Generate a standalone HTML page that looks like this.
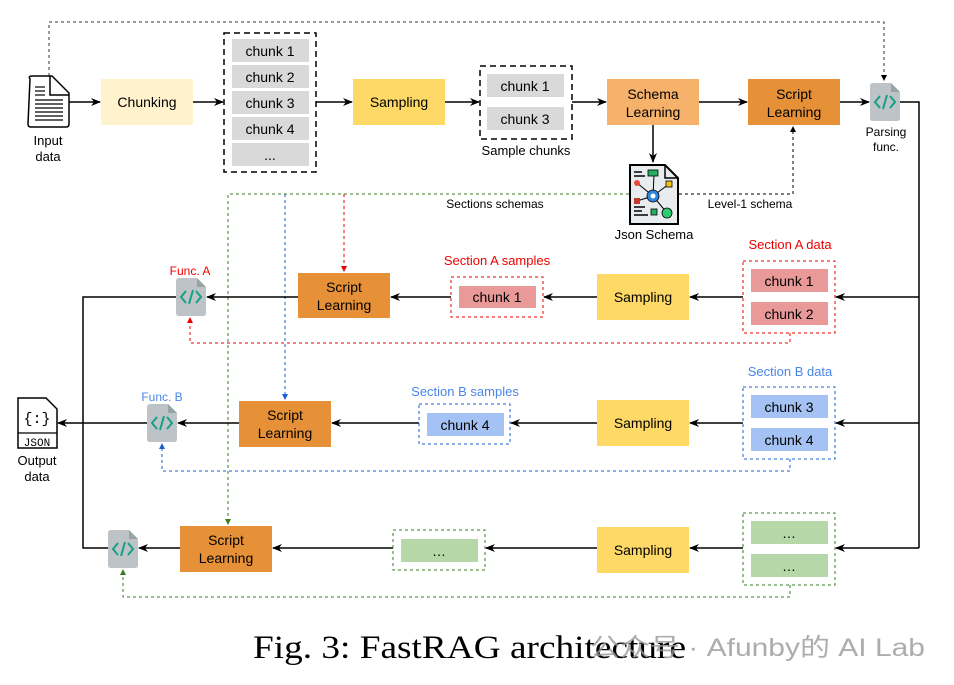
<!DOCTYPE html>
<html><head><meta charset="utf-8"><style>
html,body{margin:0;padding:0;background:#fff;}
svg{display:block;}
</style></head><body>
<svg width="954" height="685" viewBox="0 0 954 685" xmlns="http://www.w3.org/2000/svg" font-family="Liberation Sans, Arial, sans-serif">
<defs>
<marker id="ab" markerWidth="10" markerHeight="8" refX="9" refY="4" orient="auto" markerUnits="userSpaceOnUse"><path d="M0,0 L10,4 L0,8 L3,4 z" fill="#000"/></marker>
<marker id="as" markerWidth="6" markerHeight="6" refX="5" refY="3" orient="auto" markerUnits="userSpaceOnUse"><path d="M0,0 L6,3 L0,6 z" fill="#000"/></marker>
<marker id="ar" markerWidth="6" markerHeight="6" refX="5" refY="3" orient="auto" markerUnits="userSpaceOnUse"><path d="M0,0 L6,3 L0,6 z" fill="#e00"/></marker>
<marker id="abl" markerWidth="6" markerHeight="6" refX="5" refY="3" orient="auto" markerUnits="userSpaceOnUse"><path d="M0,0 L6,3 L0,6 z" fill="#1a5fd6"/></marker>
<marker id="ag" markerWidth="6" markerHeight="6" refX="5" refY="3" orient="auto" markerUnits="userSpaceOnUse"><path d="M0,0 L6,3 L0,6 z" fill="#3a7d20"/></marker>
<g id="code">
<path d="M0,3 Q0,0 3,0 L21,0 L30,9 L30,35 Q30,38 27,38 L3,38 Q0,38 0,35 z" fill="#bdc3c7"/>
<path d="M21,0 L30,9 L21,9 z" fill="#95a5a6"/>
<path d="M10,13 L5,19 L10,25 M20,13 L25,19 L20,25 M17,12 L13,26" stroke="#16a085" stroke-width="2" fill="none"/>
</g>
</defs>

<path d="M49,76 L49,22 L884,22 L884,80" fill="none" stroke="#333" stroke-width="1" stroke-dasharray="3,3" marker-end="url(#as)"/>

<path d="M30,79 Q28,76 32,76 L52,76 L69,93 L69,124 Q69,127 66,127 L31,127 Q28,127 28,124 z" fill="#fff" stroke="#000" stroke-width="1.5"/>
<path d="M50,76 L50,95 L69,95" fill="none" stroke="#000" stroke-width="1.5"/>
<g stroke="#000" stroke-width="1.2">
<line x1="35" y1="87" x2="45" y2="87"/><line x1="35" y1="91" x2="45" y2="91"/><line x1="35" y1="95" x2="45" y2="95"/>
<line x1="35" y1="100" x2="63" y2="100"/><line x1="35" y1="104" x2="63" y2="104"/><line x1="35" y1="108" x2="63" y2="108"/><line x1="35" y1="112" x2="63" y2="112"/><line x1="35" y1="116" x2="63" y2="116"/><line x1="35" y1="120" x2="63" y2="120"/>
</g>
<text x="48" y="145" font-size="13" text-anchor="middle">Input</text>
<text x="48" y="161" font-size="13" text-anchor="middle">data</text>

<g stroke="#000" stroke-width="1.5" fill="none" marker-end="url(#ab)">
<line x1="69" y1="102" x2="100" y2="102"/>
<line x1="193" y1="102" x2="223" y2="102"/>
<line x1="316" y1="102" x2="352" y2="102"/>
<line x1="445" y1="102" x2="479" y2="102"/>
<line x1="572" y1="102" x2="606" y2="102"/>
<line x1="699" y1="102" x2="747" y2="102"/>
<line x1="840" y1="102" x2="869" y2="102"/>
<line x1="653" y1="125" x2="653" y2="162"/>
</g>

<rect x="101" y="79" width="92" height="46" fill="#fff2cc"/>
<text x="147" y="107" font-size="14" text-anchor="middle">Chunking</text>

<rect x="224" y="33" width="92" height="139" fill="none" stroke="#000" stroke-width="1.5" stroke-dasharray="6,4"/>
<g fill="#d9d9d9"><rect x="232" y="39" width="77" height="23"/><rect x="232" y="65" width="77" height="23"/><rect x="232" y="91" width="77" height="23"/><rect x="232" y="117" width="77" height="23"/><rect x="232" y="143" width="77" height="23"/></g>
<g font-size="14" text-anchor="middle"><text x="270" y="56">chunk 1</text><text x="270" y="82">chunk 2</text><text x="270" y="108">chunk 3</text><text x="270" y="134">chunk 4</text><text x="270" y="160">...</text></g>

<rect x="353" y="79" width="92" height="46" fill="#ffd966"/>
<text x="399" y="107" font-size="14" text-anchor="middle">Sampling</text>

<rect x="480" y="66" width="92" height="73" fill="none" stroke="#000" stroke-width="1.5" stroke-dasharray="6,4"/>
<rect x="487" y="74" width="77" height="23" fill="#d9d9d9"/><rect x="487" y="107" width="77" height="23" fill="#d9d9d9"/>
<text x="525" y="91" font-size="14" text-anchor="middle">chunk 1</text><text x="525" y="124" font-size="14" text-anchor="middle">chunk 3</text>
<text x="526" y="155" font-size="13" text-anchor="middle">Sample chunks</text>

<rect x="607" y="79" width="92" height="46" fill="#f6b26b"/>
<text x="653" y="99" font-size="14" text-anchor="middle">Schema</text><text x="653" y="117" font-size="14" text-anchor="middle">Learning</text>
<rect x="748" y="79" width="92" height="46" fill="#e69138"/>
<text x="794" y="99" font-size="14" text-anchor="middle">Script</text><text x="794" y="117" font-size="14" text-anchor="middle">Learning</text>

<use href="#code" x="870" y="83"/>
<text x="886" y="136" font-size="12" text-anchor="middle">Parsing</text><text x="886" y="151" font-size="12" text-anchor="middle">func.</text>

<path d="M630,165 L665,165 L678,178 L678,224 L630,224 z" fill="#e8ecef" stroke="#000" stroke-width="2"/>
<path d="M665,165 L665,178 L678,178" fill="none" stroke="#000" stroke-width="1.5"/>
<g stroke="#000" stroke-width="1.5"><line x1="634" y1="172" x2="642" y2="172"/><line x1="634" y1="176" x2="645" y2="176"/><line x1="634" y1="207" x2="645" y2="207"/><line x1="634" y1="211" x2="642" y2="211"/><line x1="634" y1="215" x2="648" y2="215"/></g>
<path d="M637,183 L653,196 L667,213 M653,196 L669,184 M653,196 L637,201 M653,196 L654,175" stroke="#000" stroke-width="1" fill="none"/>
<rect x="648" y="170" width="10" height="6" fill="#27ae60" stroke="#000" stroke-width="0.8"/>
<circle cx="653" cy="196" r="6" fill="#2e86de" stroke="#000" stroke-width="0.8"/><circle cx="653" cy="196" r="2.5" fill="#fff"/>
<rect x="666" y="181" width="6" height="6" fill="#f1c40f" stroke="#000" stroke-width="0.8"/>
<circle cx="637" cy="183" r="3" fill="#e74c3c"/><rect x="634" y="198" width="6" height="6" fill="#c0392b"/>
<rect x="651" y="209" width="6" height="6" fill="#27ae60" stroke="#000" stroke-width="0.8"/>
<circle cx="667" cy="213" r="5" fill="#2ecc71" stroke="#000" stroke-width="0.8"/>
<text x="654" y="239" font-size="13" text-anchor="middle">Json Schema</text>

<path d="M679,194 L793,194 L793,127" fill="none" stroke="#000" stroke-dasharray="3,3" marker-end="url(#as)"/>
<text x="750" y="208" font-size="12" text-anchor="middle">Level-1 schema</text>
<path d="M629,194 L228,194 L228,524" fill="none" stroke="#3a7d20" stroke-dasharray="3,3" marker-end="url(#ag)"/>
<path d="M285,194 L285,399" fill="none" stroke="#1a5fd6" stroke-dasharray="3,3" marker-end="url(#abl)"/>
<path d="M344,194 L344,271" fill="none" stroke="#e00" stroke-dasharray="3,3" marker-end="url(#ar)"/>
<text x="495" y="208" font-size="12" text-anchor="middle">Sections schemas</text>

<path d="M900,102 L919,102 L919,548" fill="none" stroke="#000" stroke-width="1.5"/>
<g stroke="#000" stroke-width="1.5" fill="none" marker-end="url(#ab)">
<line x1="919" y1="297" x2="836" y2="297"/>
<line x1="919" y1="423" x2="836" y2="423"/>
<line x1="919" y1="548" x2="836" y2="548"/>
<line x1="743" y1="297" x2="690" y2="297"/>
<line x1="597" y1="297" x2="544" y2="297"/>
<line x1="451" y1="297" x2="391" y2="297"/>
<line x1="298" y1="297" x2="207" y2="297"/>
<line x1="743" y1="423" x2="690" y2="423"/>
<line x1="597" y1="423" x2="511" y2="423"/>
<line x1="419" y1="423" x2="332" y2="423"/>
<line x1="239" y1="423" x2="178" y2="423"/>
<line x1="743" y1="548" x2="690" y2="548"/>
<line x1="597" y1="548" x2="486" y2="548"/>
<line x1="393" y1="548" x2="273" y2="548"/>
<line x1="180" y1="548" x2="139" y2="548"/>
<line x1="147" y1="423" x2="58" y2="423"/>
</g>
<path d="M177,297 L83,297 L83,548 L108,548" fill="none" stroke="#000" stroke-width="1.5"/>

<text x="790" y="249" font-size="13" fill="#e00" text-anchor="middle">Section A data</text>
<rect x="743" y="261" width="92" height="72" fill="none" stroke="#e00" stroke-dasharray="3,3"/>
<rect x="751" y="269" width="77" height="23" fill="#ea9999"/><rect x="751" y="302" width="77" height="23" fill="#ea9999"/>
<text x="789" y="286" font-size="14" text-anchor="middle">chunk 1</text><text x="789" y="319" font-size="14" text-anchor="middle">chunk 2</text>
<rect x="597" y="274" width="92" height="46" fill="#ffd966"/><text x="643" y="302" font-size="14" text-anchor="middle">Sampling</text>
<text x="497" y="265" font-size="13" fill="#e00" text-anchor="middle">Section A samples</text>
<rect x="451" y="277" width="92" height="40" fill="none" stroke="#e00" stroke-dasharray="3,3"/>
<rect x="459" y="286" width="77" height="22" fill="#ea9999"/><text x="497" y="302" font-size="14" text-anchor="middle">chunk 1</text>
<rect x="298" y="273" width="92" height="45" fill="#e69138"/>
<text x="344" y="292" font-size="14" text-anchor="middle">Script</text><text x="344" y="310" font-size="14" text-anchor="middle">Learning</text>
<use href="#code" x="176" y="278"/>
<text x="190" y="275" font-size="12" fill="#e00" text-anchor="middle">Func. A</text>
<path d="M790,333 L790,343 L190,343 L190,318" fill="none" stroke="#e00" stroke-dasharray="3,3" marker-end="url(#ar)"/>

<text x="790" y="376" font-size="13" fill="#4a86e8" text-anchor="middle">Section B data</text>
<rect x="743" y="387" width="92" height="72" fill="none" stroke="#1a5fd6" stroke-dasharray="3,3"/>
<rect x="751" y="395" width="77" height="23" fill="#a4c2f4"/><rect x="751" y="428" width="77" height="23" fill="#a4c2f4"/>
<text x="789" y="412" font-size="14" text-anchor="middle">chunk 3</text><text x="789" y="445" font-size="14" text-anchor="middle">chunk 4</text>
<rect x="597" y="400" width="92" height="46" fill="#ffd966"/><text x="643" y="428" font-size="14" text-anchor="middle">Sampling</text>
<text x="465" y="396" font-size="13" fill="#4a86e8" text-anchor="middle">Section B samples</text>
<rect x="419" y="404" width="91" height="40" fill="none" stroke="#1a5fd6" stroke-dasharray="3,3"/>
<rect x="427" y="413" width="77" height="23" fill="#a4c2f4"/><text x="465" y="430" font-size="14" text-anchor="middle">chunk 4</text>
<rect x="239" y="401" width="92" height="46" fill="#e69138"/>
<text x="285" y="420" font-size="14" text-anchor="middle">Script</text><text x="285" y="438" font-size="14" text-anchor="middle">Learning</text>
<use href="#code" x="147" y="404"/>
<text x="162" y="401" font-size="12" fill="#4a86e8" text-anchor="middle">Func. B</text>
<path d="M790,459 L790,471 L162,471 L162,444" fill="none" stroke="#1a5fd6" stroke-dasharray="3,3" marker-end="url(#abl)"/>

<rect x="743" y="513" width="92" height="72" fill="none" stroke="#3a7d20" stroke-dasharray="3,3"/>
<rect x="751" y="521" width="77" height="23" fill="#b6d7a8"/><rect x="751" y="554" width="77" height="23" fill="#b6d7a8"/>
<text x="789" y="538" font-size="14" text-anchor="middle">…</text><text x="789" y="571" font-size="14" text-anchor="middle">…</text>
<rect x="597" y="527" width="92" height="46" fill="#ffd966"/><text x="643" y="555" font-size="14" text-anchor="middle">Sampling</text>
<rect x="393" y="530" width="92" height="40" fill="none" stroke="#3a7d20" stroke-dasharray="3,3"/>
<rect x="401" y="539" width="77" height="23" fill="#b6d7a8"/><text x="439" y="556" font-size="14" text-anchor="middle">…</text>
<rect x="180" y="526" width="92" height="46" fill="#e69138"/>
<text x="226" y="545" font-size="14" text-anchor="middle">Script</text><text x="226" y="563" font-size="14" text-anchor="middle">Learning</text>
<use href="#code" x="108" y="530"/>
<path d="M790,585 L790,597 L123,597 L123,570" fill="none" stroke="#3a7d20" stroke-dasharray="3,3" marker-end="url(#ag)"/>

<path d="M18,398 L46,398 L57,409 L57,448 L18,448 z" fill="#fff" stroke="#000" stroke-width="1.5"/>
<line x1="18" y1="433" x2="57" y2="433" stroke="#000" stroke-width="1.2"/>
<text x="37" y="423" font-size="15" text-anchor="middle" style="font-family:'Liberation Mono',monospace">{:}</text>
<text x="37" y="446" font-size="11" text-anchor="middle" style="font-family:'Liberation Mono',monospace">JSON</text>
<text x="37" y="465" font-size="13" text-anchor="middle">Output</text><text x="37" y="481" font-size="13" text-anchor="middle">data</text>

<text x="253" y="658" font-size="33" textLength="433" lengthAdjust="spacingAndGlyphs" style="font-family:'Liberation Serif',serif">Fig. 3: FastRAG architecture</text>
<text x="590" y="656" font-size="25" textLength="335" lengthAdjust="spacingAndGlyphs" fill="#999" fill-opacity="0.8" style="font-family:'Liberation Sans','Noto Sans CJK SC',sans-serif">公众号 · Afunby的 AI Lab</text>
</svg>
</body></html>
